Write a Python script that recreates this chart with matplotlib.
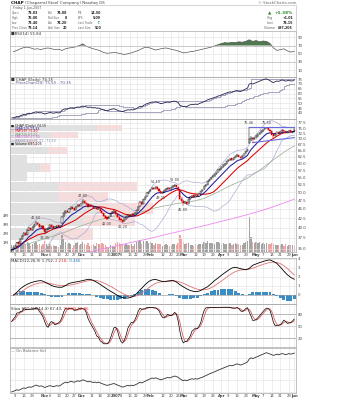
import matplotlib
matplotlib.use("Agg")
import matplotlib.pyplot as plt
from matplotlib.patches import Rectangle
from matplotlib.ticker import FixedLocator, FixedFormatter, NullLocator, MaxNLocator
import numpy as np
import pandas as pd

W, H = 339, 400          # canvas in pixels at dpi 100
LEFT, RIGHT = 10, 296    # plot area edges in pixels

# trading calendar
HOLIDAYS = ["2006-11-23", "2006-12-25", "2007-01-01", "2007-01-02",
            "2007-01-15", "2007-02-19", "2007-04-06", "2007-05-28"]
DATES = pd.bdate_range("2006-10-05", "2007-06-01")
DATES = DATES[~DATES.isin(pd.to_datetime(HOLIDAYS))]

# daily bars, CHAP
OPEN = [
    34.55, 34.85, 35.20, 35.70, 36.45, 36.20, 37.30, 38.00, 38.60, 38.30,
    39.50, 39.85, 39.40, 40.20, 40.75, 41.25, 40.90, 40.05, 40.40, 39.65,
    38.95, 39.60, 40.00, 40.65, 40.30, 39.85, 40.20, 40.55, 40.10, 41.20,
    42.95, 43.95, 44.40, 44.10, 44.95, 45.45, 45.15, 44.75, 45.70, 46.25,
    45.95, 46.60, 47.25, 46.85, 46.40, 45.75, 46.15, 45.90, 45.35, 45.60,
    44.95, 45.25, 44.45, 43.80, 43.15, 42.65, 42.40, 42.95, 43.75, 44.10,
    44.45, 43.70, 42.85, 42.15, 41.90, 41.60, 42.25, 42.80, 43.35, 43.10,
    43.50, 43.25, 43.85, 44.65, 45.75, 46.95, 46.45, 47.85, 48.70, 49.75,
    50.25, 50.90, 51.45, 51.15, 51.80, 51.10, 50.35, 49.75, 50.00, 50.65,
    51.00, 51.35, 50.95, 51.60, 52.10, 52.25, 51.65, 50.70, 47.95, 47.25,
    46.65, 47.00, 46.45, 47.90, 48.45, 49.00, 48.65, 49.30, 48.75, 49.60,
    50.35, 50.90, 51.95, 52.50, 53.65, 54.25, 54.90, 55.45, 56.00, 56.65,
    57.50, 57.95, 58.70, 59.45, 59.95, 60.80, 61.35, 61.90, 61.45, 62.15,
    62.80, 63.25, 62.65, 62.20, 62.95, 63.90, 64.75, 68.40, 69.85, 70.45,
    69.95, 70.60, 71.35, 72.15, 72.90, 73.65, 74.35, 74.95, 75.15, 74.25,
    73.45, 72.05, 71.45, 72.35, 73.05, 72.65, 73.45, 74.10, 73.65, 72.90,
    73.35, 73.85, 73.00, 73.83,
]
HIGH = [
    35.05, 35.35, 35.90, 36.60, 36.70, 37.45, 38.15, 38.80, 38.90, 39.65,
    40.10, 40.00, 40.35, 40.95, 41.60, 41.45, 41.05, 40.70, 40.55, 39.80,
    39.75, 40.20, 40.85, 40.90, 40.45, 40.40, 40.75, 40.70, 40.65, 43.05,
    44.25, 44.70, 44.75, 45.15, 45.75, 45.60, 45.35, 45.90, 46.55, 46.40,
    46.80, 47.80, 47.55, 47.05, 46.60, 46.40, 46.45, 46.05, 45.85, 45.70,
    45.45, 45.35, 44.60, 43.95, 43.30, 42.90, 43.10, 43.95, 44.30, 44.65,
    44.70, 43.85, 43.00, 42.45, 42.10, 42.45, 43.00, 43.55, 43.60, 43.70,
    43.75, 44.05, 44.85, 45.95, 47.20, 47.25, 48.05, 48.95, 49.95, 50.55,
    51.15, 51.70, 51.80, 52.10, 52.00, 51.25, 50.55, 50.30, 50.85, 51.25,
    51.55, 51.60, 51.80, 52.35, 52.80, 52.45, 51.80, 50.85, 48.40, 47.55,
    47.40, 47.20, 48.10, 48.70, 49.25, 49.20, 49.50, 49.45, 49.80, 50.55,
    51.10, 52.15, 52.80, 53.85, 54.50, 55.15, 55.70, 56.25, 56.90, 57.75,
    58.25, 58.95, 59.70, 60.25, 61.05, 61.65, 62.20, 62.15, 62.40, 63.05,
    63.55, 63.45, 62.90, 63.15, 64.10, 65.00, 65.90, 75.46, 71.20, 70.80,
    70.90, 71.65, 72.45, 73.20, 73.95, 74.70, 75.25, 75.50, 75.30, 74.45,
    73.60, 72.30, 72.60, 73.30, 73.25, 73.70, 74.40, 74.30, 73.80, 73.60,
    74.15, 74.00, 73.45, 75.00,
]
LOW = [
    34.40, 34.70, 35.05, 35.55, 35.90, 36.05, 37.10, 37.85, 37.95, 38.20,
    39.20, 39.05, 39.25, 40.00, 40.55, 40.60, 39.90, 39.85, 39.50, 38.35,
    38.70, 39.35, 39.85, 40.05, 39.55, 39.60, 40.00, 39.85, 39.90, 41.00,
    42.70, 43.60, 43.80, 43.95, 44.70, 44.90, 44.40, 44.60, 45.50, 45.60,
    45.75, 46.40, 46.55, 46.10, 45.45, 45.50, 45.60, 45.05, 45.10, 44.65,
    44.70, 44.20, 43.50, 42.85, 42.30, 42.00, 42.20, 42.80, 43.55, 43.90,
    43.40, 42.55, 41.90, 41.55, 41.20, 41.40, 42.05, 42.60, 42.80, 42.90,
    42.95, 43.10, 43.70, 44.50, 45.60, 46.10, 46.30, 47.70, 48.50, 49.50,
    50.05, 50.70, 50.85, 50.95, 50.80, 50.05, 49.35, 49.45, 49.80, 50.45,
    50.75, 50.65, 50.80, 51.40, 51.85, 51.35, 50.50, 47.60, 46.85, 45.80,
    46.30, 46.05, 46.30, 47.70, 48.20, 48.35, 48.45, 48.40, 48.60, 49.40,
    50.15, 50.75, 51.75, 52.35, 53.45, 54.00, 54.65, 55.20, 55.75, 56.40,
    57.20, 57.70, 58.45, 59.15, 59.70, 60.55, 61.10, 61.10, 61.20, 61.90,
    62.55, 62.30, 61.85, 61.95, 62.80, 63.70, 64.50, 67.90, 69.10, 68.40,
    69.60, 70.35, 71.05, 71.90, 72.60, 73.35, 74.05, 74.60, 73.90, 73.05,
    71.70, 70.35, 71.20, 72.05, 72.25, 72.40, 73.20, 73.30, 72.50, 72.70,
    73.05, 72.70, 72.75, 73.40,
]
CLOSE = [
    34.80, 35.10, 35.65, 36.40, 36.10, 37.25, 37.90, 38.55, 38.20, 39.45,
    39.80, 39.30, 40.15, 40.70, 41.20, 40.85, 40.10, 40.35, 39.70, 38.90,
    39.55, 39.95, 40.60, 40.25, 39.80, 40.15, 40.50, 40.05, 40.45, 42.80,
    43.90, 44.35, 44.05, 44.90, 45.40, 45.10, 44.70, 45.65, 46.20, 45.90,
    46.55, 47.20, 46.80, 46.35, 45.70, 46.10, 45.85, 45.30, 45.55, 44.90,
    45.20, 44.40, 43.75, 43.10, 42.60, 42.35, 42.90, 43.70, 44.05, 44.40,
    43.65, 42.80, 42.10, 41.85, 41.55, 42.20, 42.75, 43.30, 43.05, 43.45,
    43.20, 43.80, 44.60, 45.70, 46.90, 46.40, 47.80, 48.65, 49.70, 50.20,
    50.85, 51.40, 51.10, 51.75, 51.05, 50.30, 49.70, 49.95, 50.60, 50.95,
    51.30, 50.90, 51.55, 52.05, 52.20, 51.60, 50.75, 47.90, 47.20, 46.60,
    46.95, 46.40, 47.85, 48.40, 48.95, 48.60, 49.25, 48.70, 49.55, 50.30,
    50.85, 51.90, 52.45, 53.60, 54.20, 54.85, 55.40, 55.95, 56.60, 57.45,
    57.90, 58.65, 59.40, 59.90, 60.75, 61.30, 61.85, 61.40, 62.10, 62.75,
    63.20, 62.60, 62.15, 62.90, 63.85, 64.70, 65.60, 69.80, 70.40, 69.90,
    70.55, 71.30, 72.10, 72.85, 73.60, 74.30, 74.90, 75.10, 74.20, 73.40,
    72.00, 71.40, 72.30, 73.00, 72.60, 73.40, 74.05, 73.60, 72.85, 73.30,
    73.80, 72.95, 73.14, 74.15,
]
# shares, millions
VOLUME = [
    0.82, 0.75, 0.91, 1.05, 0.68, 1.12, 0.97, 1.08, 0.72, 1.15,
    0.94, 0.66, 0.88, 1.02, 1.10, 0.79, 0.85, 0.63, 0.90, 1.25,
    0.84, 0.71, 0.93, 0.66, 0.74, 0.61, 0.70, 0.58, 0.77, 1.85,
    1.48, 1.12, 0.83, 0.95, 0.88, 0.42, 0.76, 0.98, 1.06, 0.81,
    0.92, 1.14, 0.87, 0.79, 1.01, 0.68, 0.74, 0.89, 0.63, 0.97,
    0.85, 0.93, 1.02, 0.88, 0.81, 0.57, 0.49, 0.72, 0.66, 0.55,
    0.94, 1.08, 0.99, 0.86, 0.91, 0.78, 0.84, 0.80, 0.73, 0.88,
    0.69, 0.92, 1.05, 1.21, 1.34, 0.90, 1.18, 1.09, 1.26, 1.02,
    1.15, 0.97, 0.82, 0.99, 0.88, 0.93, 0.85, 0.71, 0.79, 0.84,
    0.76, 0.68, 0.81, 0.93, 0.87, 0.74, 0.96, 1.92, 1.41, 1.13,
    0.89, 0.95, 1.04, 0.82, 0.78, 0.70, 0.86, 0.74, 0.83, 0.91,
    0.88, 1.07, 0.98, 1.16, 1.03, 0.94, 0.99, 0.87, 1.05, 1.12,
    0.96, 0.92, 1.01, 0.85, 0.93, 0.88, 0.97, 0.79, 0.86, 0.94,
    0.90, 0.83, 0.77, 0.81, 0.95, 1.08, 1.22, 3.88, 1.64, 1.12,
    0.96, 1.05, 0.98, 1.10, 0.93, 1.01, 0.89, 0.97, 0.84, 0.92,
    0.96, 0.87, 0.78, 0.82, 0.74, 0.80, 0.86, 0.71, 0.83, 0.66,
    0.78, 0.81, 0.72, 0.697205,
]

# long moving averages, every 4th session ending on the last one
MA50 = [35.6, 35.9, 36.3, 36.8, 37.3, 37.8, 38.3, 38.9, 39.6, 40.3,
        40.9, 41.5, 42.09, 42.62, 43.04, 43.25, 43.40, 43.70, 44.16, 44.81,
        45.37, 45.77, 46.13, 46.58, 46.80, 47.06, 47.54, 48.09, 49.04, 50.10,
        51.27, 52.38, 53.35, 54.34, 55.83, 57.45, 59.36, 61.43, 63.38, 65.30,
        67.01]
MA200 = [31.2, 31.5, 31.8, 32.1, 32.4, 32.7, 33.0, 33.3, 33.6, 33.9,
         34.2, 34.5, 34.85, 35.2, 35.55, 35.9, 36.25, 36.6, 36.95, 37.3,
         37.7, 38.1, 38.5, 38.9, 39.3, 39.7, 40.1, 40.5, 40.95, 41.4,
         41.85, 42.3, 42.8, 43.3, 43.85, 44.4, 45.0, 45.65, 46.35, 47.1,
         47.9]

# oscillators, every 2nd session ending on the last one
RSI = [55, 58, 62, 65, 66, 64, 61, 62, 60, 63,
       64, 62, 60, 61, 58, 62, 64, 65, 67, 70,
       74, 68, 65, 62, 60, 57, 53, 51, 52, 53,
       52, 50, 48, 50, 52, 55, 58, 62, 66, 65,
       62, 59, 61, 63, 64, 62, 60, 58, 55, 52,
       53, 55, 56, 58, 60, 62, 64, 66, 69, 72,
       75, 77, 76, 78, 77, 79, 78, 80, 84, 80,
       82, 79, 81, 80, 75, 64, 58, 60, 62, 57,
       54, 55.84]
MACD = [0.00, 0.30, 0.70, 0.98, 1.20, 1.36, 1.48, 1.56, 1.60, 1.45,
        1.25, 1.05, 0.92, 0.86, 0.86, 1.05, 1.28, 1.38, 1.45, 1.52,
        1.60, 1.70, 1.75, 1.62, 1.42, 1.18, 0.92, 0.66, 0.42, 0.20,
        -0.05, -0.22, -0.33, -0.34, -0.25, -0.05, 0.35, 0.75, 1.15, 1.50,
        1.68, 1.74, 1.60, 1.50, 1.52, 1.58, 1.62, 1.45, 1.15, 0.90,
        0.68, 0.50, 0.40, 0.37, 0.50, 0.72, 0.92, 1.25, 1.60, 1.88,
        2.20, 2.48, 2.75, 3.00, 3.08, 2.98, 2.88, 2.80, 2.95, 3.30,
        3.45, 3.60, 3.72, 3.84, 3.90, 3.72, 3.50, 3.10, 2.65, 2.25,
        1.95, 1.752]
SIGNAL = [0.00, 0.10, 0.30, 0.55, 0.82, 1.02, 1.18, 1.28, 1.35, 1.36,
          1.33, 1.25, 1.15, 1.08, 1.04, 1.04, 1.08, 1.15, 1.24, 1.34,
          1.44, 1.54, 1.62, 1.64, 1.60, 1.50, 1.34, 1.16, 0.96, 0.74,
          0.50, 0.28, 0.08, -0.08, -0.17, -0.16, -0.02, 0.20, 0.48, 0.80,
          1.08, 1.30, 1.42, 1.48, 1.50, 1.52, 1.55, 1.54, 1.44, 1.30,
          1.12, 0.94, 0.78, 0.65, 0.58, 0.58, 0.65, 0.80, 1.02, 1.28,
          1.56, 1.84, 2.12, 2.38, 2.60, 2.74, 2.80, 2.82, 2.86, 2.98,
          3.12, 3.26, 3.40, 3.52, 3.62, 3.66, 3.62, 3.48, 3.25, 2.95,
          2.58, 2.218]

# volume by price: zone edges ($) and volume per zone (millions)
VBP_EDGES = [37.0, 40.3, 43.7, 47.0, 50.3, 53.7, 57.0, 60.3, 63.7, 67.0, 70.3, 73.7, 77.0]
VBP_UP = [14.1, 21.9, 26.1, 14.4, 14.4, 5.1, 9.0, 5.1, 11.4, 6.0, 12.0, 26.1]
VBP_DOWN = [10.8, 15.6, 16.8, 15.0, 23.7, 0.0, 3.0, 0.0, 5.7, 2.0, 8.4, 7.5]

# annotated swing points: bar index and which end of the bar
NOTE_IDX = [14, 19, 41, 55, 64, 83, 86, 94, 99, 137, 147]
NOTE_SIDE = ["high", "low", "high", "low", "low", "high", "low", "high", "low", "high", "high"]

# trend lines drawn on the May consolidation
RESIST_IDX, RESIST_PRICE = [137, 163], [75.50, 75.50]
SUPPORT_IDX, SUPPORT_PRICE = [139, 163], [68.40, 70.60]

# quote box
QUOTE = {"Bid": "74.08", "Bid Size": "8", "Ask": "74.20", "Ask Size": "20",
         "P/E": "14.50", "EPS": "5.09", "Last Size": "500"}

PRICE_TICKS = [35.0, 37.5, 40.0, 42.5, 45.0, 47.5, 50.0, 52.5, 55.0, 57.5,
               60.0, 62.5, 65.0, 67.5, 70.0, 72.5, 75.0, 77.5]
PRICE_LIM = (34.3, 79.4)

assert len(DATES) == len(CLOSE)

# ---- indicators ----
n = len(CLOSE)
x = np.arange(n)
x2 = x[1::2]
x4 = x[3::4]
c = pd.Series(CLOSE)
hi = pd.Series(HIGH)
lo = pd.Series(LOW)
vol = np.array(VOLUME)
op = np.array(OPEN)
cl = np.array(CLOSE)

ema10 = c.ewm(span=10, adjust=False).mean()
ma20 = c.rolling(20, min_periods=1).mean()
sd20 = c.rolling(20, min_periods=10).std(ddof=0)
bb_up, bb_dn = ma20 + 2 * sd20, ma20 - 2 * sd20
macd = np.array(MACD)
signal = np.array(SIGNAL)
hist = macd - signal
hh14 = hi.rolling(14, min_periods=1).max()
ll14 = lo.rolling(14, min_periods=1).min()
sto_k = (100 * (c - ll14) / (hh14 - ll14)).rolling(3, min_periods=1).mean()
sto_d = sto_k.rolling(3, min_periods=1).mean()
up_day = np.r_[True, np.diff(cl) >= 0]
obv = np.cumsum(np.r_[0, np.sign(np.diff(cl))] * vol)
chan_hi = hi.rolling(20, min_periods=1).max().shift(1)
chan_lo = lo.rolling(20, min_periods=1).min().shift(1)

# ---- date ticks: weekly, with month names on the first session of a month ----
ticks = []
for i in range(1, n):
    d, p = DATES[i], DATES[i - 1]
    if d.month != p.month:
        ticks.append((i, "2007" if d.month == 1 else d.strftime("%b"), True))
    elif d.isocalendar()[1] != p.isocalendar()[1]:
        ticks.append((i, str(d.day), False))
month_pos = [t[0] for t in ticks if t[2]]
ticks = [t for t in ticks if t[2] or min(abs(t[0] - m) for m in month_pos) > 2]
tick_pos = [t[0] for t in ticks]
tick_lab = [t[1] for t in ticks]
tick_bold = [t[2] for t in ticks]

fig = plt.figure(figsize=(W / 100, H / 100), dpi=100)
fig.patch.set_facecolor("white")
TXT = 2.8


def rect(top, bottom):
    return [LEFT / W, 1 - bottom / H, (RIGHT - LEFT) / W, (bottom - top) / H]


def tidy(ax):
    ax.tick_params(length=0, labelsize=TXT, colors="#444444", pad=1.2)


def add_panel(top, bottom):
    ax = fig.add_axes(rect(top, bottom))
    ax.set_facecolor("none")
    ax.set_xlim(-1, n)
    ax.yaxis.tick_right()
    tidy(ax)
    ax.set_xticks(tick_pos)
    ax.set_xticklabels([])
    ax.grid(color="#e2e2e2", linewidth=0.4)
    ax.set_axisbelow(True)
    for s in ax.spines.values():
        s.set_color("#a8a8a8")
        s.set_linewidth(0.5)
    return ax


def date_labels(ax):
    ax.set_xticklabels(tick_lab)
    for lab, b in zip(ax.get_xticklabels(), tick_bold):
        lab.set_fontsize(2.7)
        if b:
            lab.set_fontweight("bold")
    ax.tick_params(axis="x", pad=1.0)


def ftext(px, py, s, **kw):
    kw.setdefault("fontsize", TXT)
    kw.setdefault("va", "center")
    return fig.text(px / W, 1 - py / H, s, **kw)


def chain(ax, px, py, parts, size=TXT):
    t = ftext(px, py, parts[0][0], color=parts[0][1], fontsize=size,
              weight=parts[0][2] if len(parts[0]) > 2 else "normal")
    for part in parts[1:]:
        t = ax.annotate(part[0], xy=(1, 0), xycoords=t, va="bottom", fontsize=size, color=part[1],
                        weight=part[2] if len(part) > 2 else "normal")


# ---- RSI panel first, so the header can chain text off it ----
ax_r = add_panel(31, 77)

# ---- header / quote box ----
chain(ax_r, 11, 3, [("CHAP ", "#111111", "bold"),
                    ("(Chaparral Steel Company) Nasdaq GS", "#444444")], size=3.0)
ftext(RIGHT, 3, "© StockCharts.com", ha="right", color="#666666", fontsize=2.8)
fig.add_artist(Rectangle((LEFT / W, 1 - 31 / H), (RIGHT - LEFT) / W, 26 / H,
                         transform=fig.transFigure, fill=False, edgecolor="#c4c4c4", lw=0.5))
QSIZE = 2.3
ftext(13, 7.6, "Friday " + DATES[-1].strftime("%-d-%b-%Y"), color="#555555", fontsize=QSIZE)
rows = [
    ("Open", f"{OPEN[-1]:.2f}", "Bid", QUOTE["Bid"], "P/E", QUOTE["P/E"]),
    ("High", f"{HIGH[-1]:.2f}", "Bid Size", QUOTE["Bid Size"], "EPS", QUOTE["EPS"]),
    ("Low", f"{LOW[-1]:.2f}", "Ask", QUOTE["Ask"], "Last Trade", ""),
    ("Prev Close", f"{CLOSE[-2]:.2f}", "Ask Size", QUOTE["Ask Size"], "Last Size", QUOTE["Last Size"]),
]
for k, row in enumerate(rows):
    yy = 13.3 + 5 * k
    for j, (lx, vx) in enumerate([(12, 38), (48, 67), (78, 101)]):
        ftext(lx, yy, row[2 * j], color="#666666", fontsize=2.1)
        ftext(vx, yy, row[2 * j + 1], ha="right", weight="bold", color="#222222", fontsize=QSIZE)
ftext(100, 23.3, "↑", ha="right", color="#2e8b2e", weight="bold", fontsize=3.2)

chg = CLOSE[-1] - CLOSE[-2]
ftext(268, 13.3, "▲", color="#2e7d2e", fontsize=3.2)
ftext(293, 13.3, f"{100 * chg / CLOSE[-2]:+.2f}%", ha="right", color="#2e8b2e", weight="bold", fontsize=3.1)
ftext(267, 18.3, "Chg", color="#666666", fontsize=QSIZE)
ftext(293, 18.3, f"{chg:+.2f}", ha="right", weight="bold", color="#222222", fontsize=QSIZE)
ftext(267, 23.3, "Last", color="#666666", fontsize=QSIZE)
ftext(293, 23.3, f"{CLOSE[-1]:.2f}", ha="right", weight="bold", color="#222222", fontsize=QSIZE)
ftext(264, 28.3, "Volume", color="#666666", fontsize=QSIZE)
ftext(293, 28.3, f"{int(round(VOLUME[-1] * 1e6)):,}", ha="right", weight="bold", color="#222222", fontsize=QSIZE)

# ---- RSI ----
rsi = np.array(RSI, dtype=float)
ax_r.fill_between(x2, rsi, 70, where=rsi > 70, interpolate=True, color="#50784f", lw=0)
ax_r.plot(x2, rsi, color="#555555", lw=0.5)
ax_r.set_ylim(-6.8, 105.4)
ax_r.set_yticks([10, 30, 50, 70, 90])
ax_r.axhline(70, color="#b0b0b0", lw=0.4)
ax_r.axhline(30, color="#b0b0b0", lw=0.4)
ftext(11, 33.8, f"■RSI(14) {rsi[-1]:.2f}", color="#333333")

# ---- price with price channel ----
ax_p = add_panel(77, 119)
ax_p.plot(x, chan_hi, color="#8484aa", lw=0.5, drawstyle="steps-post")
ax_p.plot(x, chan_lo, color="#8484aa", lw=0.5, drawstyle="steps-post")
ax_p.plot(x, CLOSE, color="#23234f", lw=0.6)
ax_p.set_ylim(33.8, 77.1)
ax_p.set_yticks([40, 45, 50, 55, 60, 65, 70, 75])
ftext(11, 79.6, f"■ CHAP (Daily) {CLOSE[-1]:.2f}", color="#333333")
ftext(11, 82.6, f"— PriceChan(20) {chan_hi.iloc[-1]:.2f} - {chan_lo.iloc[-1]:.2f}", color="#555588")

# ---- main price panel: volume by price, volume, candles ----
ax_v = fig.add_axes(rect(119, 252))
ax_v.set_yscale("log")
ax_v.set_ylim(*PRICE_LIM)
edges = np.array(VBP_EDGES)
zone_h = np.diff(edges) * 0.9
ax_v.barh(edges[:-1], VBP_UP, height=zone_h, align="edge", color="#e0e0e0", lw=0)
ax_v.barh(edges[:-1], VBP_DOWN, left=VBP_UP, height=zone_h, align="edge", color="#f8dcdc", lw=0)
ax_v.set_xlim(0, 86)
ax_v.axis("off")

ax_vol = fig.add_axes(rect(119, 252))
ax_vol.set_facecolor("none")
ax_vol.bar(x, VOLUME, width=0.75, color=np.where(up_day, "#a4a4a4", "#f0a4a4"), lw=0)
ax_vol.set_xlim(-1, n)
ax_vol.set_ylim(0, 14.6)
ax_vol.set_xticks([])
ax_vol.set_yticks([1, 2, 3, 4])
ax_vol.set_yticklabels(["1M", "2M", "3M", "4M"])
tidy(ax_vol)
for s in ax_vol.spines.values():
    s.set_visible(False)

ax = add_panel(119, 252)
ax.set_yscale("log")
ax.set_ylim(*PRICE_LIM)
ax.yaxis.set_major_locator(FixedLocator(PRICE_TICKS))
ax.yaxis.set_major_formatter(FixedFormatter([f"{t:.1f}" for t in PRICE_TICKS]))
ax.yaxis.set_minor_locator(NullLocator())
tidy(ax)
date_labels(ax)

ax.plot(x, bb_up, color="#a6a6d2", lw=0.45, zorder=2)
ax.plot(x, bb_dn, color="#a6a6d2", lw=0.45, zorder=2)
ax.plot(x4, MA200, color="#ee88ee", lw=0.6, zorder=2)
ax.plot(x4, MA50, color="#9cb39c", lw=0.55, zorder=2)
ax.plot(x, ma20, color="#e00000", lw=0.75, zorder=3)
ax.plot(x, ema10, color="#1c1ca0", lw=0.75, zorder=3)

col = np.where(up_day, "black", "#dd0000")
ax.vlines(x, LOW, HIGH, colors=col, lw=0.35, zorder=4)
face = np.where(cl < op, col, "white")
ax.bar(x, np.abs(cl - op), bottom=np.minimum(cl, op), width=0.7,
       color=face, edgecolor=col, lw=0.3, zorder=5)

ax.plot(RESIST_IDX, RESIST_PRICE, color="#6a6ae0", lw=0.8, zorder=6)
ax.plot(SUPPORT_IDX, SUPPORT_PRICE, color="#6a6ae0", lw=0.8, zorder=6)

for i, side in zip(NOTE_IDX, NOTE_SIDE):
    if side == "high":
        ax.annotate(f"{HIGH[i]:.2f}", (i, HIGH[i]), xytext=(0, 1.2), textcoords="offset points",
                    ha="center", va="bottom", fontsize=2.5, color="#444444", zorder=7)
    else:
        ax.annotate(f"{LOW[i]:.2f}", (i, LOW[i]), xytext=(0, -1.2), textcoords="offset points",
                    ha="center", va="top", fontsize=2.5, color="#444444", zorder=7)

legend = [
    (f"■ CHAP (Daily) {CLOSE[-1]:.2f}", "#222222"),
    (f"— EMA(10) {ema10.iloc[-1]:.2f}", "#1c1ca0"),
    (f"— MA(20) {ma20.iloc[-1]:.2f}", "#e00000"),
    (f"— MA(50) {MA50[-1]:.2f}", "#6f946f"),
    (f"— MA(200) {MA200[-1]:.2f}", "#dd66dd"),
    (f"— BB(20,2.0) {bb_up.iloc[-1]:.2f} - {bb_dn.iloc[-1]:.2f}", "#7f7fb0"),
    (f"■ Volume {int(round(VOLUME[-1] * 1e6)):,}", "#222222"),
]
for k, (s, colr) in enumerate(legend):
    ftext(11, 125.5 + 3 * k, s, color=colr, fontsize=2.3)

# ---- MACD ----
ax_m = add_panel(258, 304)
ax_m.bar(x2, hist, width=1.7, color="#3a8cc4", lw=0)
ax_m.axhline(0, color="#9a9a9a", lw=0.4)
ax_m.plot(x2, signal, color="#e07272", lw=0.6)
ax_m.plot(x2, macd, color="black", lw=0.6)
ax_m.set_ylim(-1.0, 4.11)
ax_m.set_yticks([0, 1, 2, 3, 4])
chain(ax_m, 11, 260.5, [(f"MACD(12,26,9) {macd[-1]:.3f}, ", "#333333"),
                        (f"{signal[-1]:.3f}, ", "#dd3333"),
                        (f"{hist[-1]:.3f}", "#2a7ab8")])

# ---- slow stochastic ----
ax_s = add_panel(304, 347)
ax_s.axhline(80, color="#9a9a9a", lw=0.45)
ax_s.axhline(20, color="#9a9a9a", lw=0.45)
ax_s.axhline(50, color="#9a9a9a", lw=0.4, ls=(0, (1, 1)))
ax_s.plot(x, sto_d, color="#e05a5a", lw=0.6)
ax_s.plot(x, sto_k, color="black", lw=0.5)
ax_s.set_ylim(-2.5, 105)
ax_s.set_yticks([20, 50, 80])
chain(ax_s, 11, 308.5, [(f"Slow STO %K(14,3) {sto_k.iloc[-1]:.2f}, ", "#333333"),
                        (f"%D(3) {sto_d.iloc[-1]:.2f}", "#dd3333")])

# ---- on balance volume ----
ax_o = add_panel(348, 393)
ax_o.plot(x, obv, color="#333333", lw=0.6)
span = obv.max() - obv.min()
ax_o.set_ylim(obv.min() - 0.03 * span, obv.max() + 0.12 * span)
ax_o.yaxis.set_major_locator(MaxNLocator(5))
ax_o.set_yticklabels([])
date_labels(ax_o)
ftext(11, 351, "— On Balance Vol", color="#666666")

fig.savefig("out.png", dpi=100)
